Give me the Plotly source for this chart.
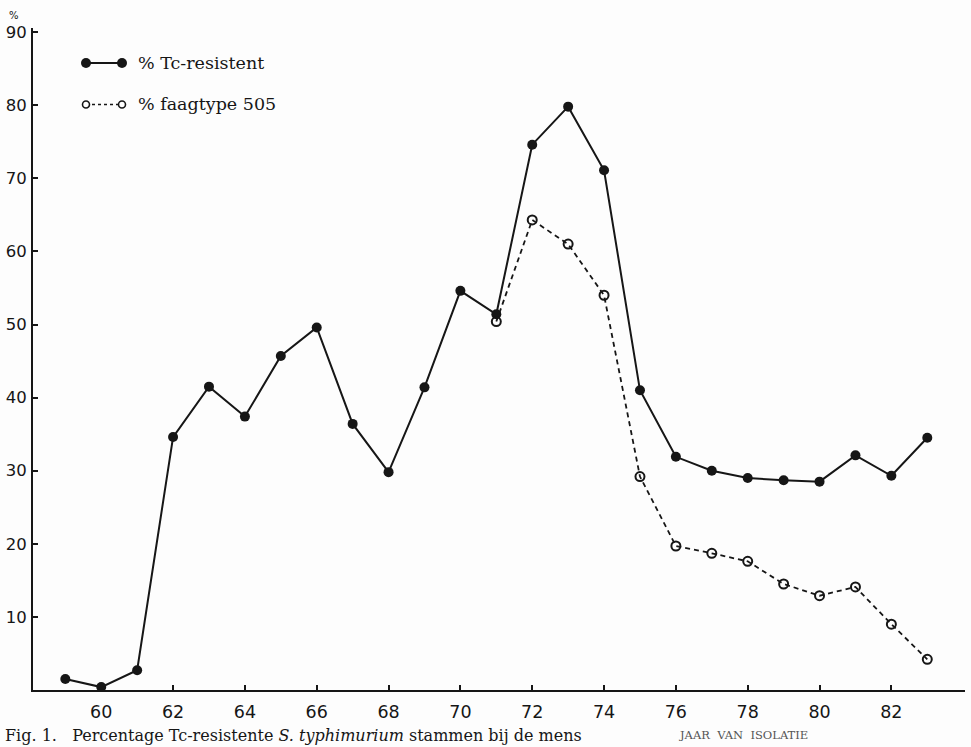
import plotly.graph_objects as go

# Years of isolation (19xx)
years_tc = [59, 60, 61, 62, 63, 64, 65, 66, 67, 68, 69, 70, 71,
            72, 73, 74, 75, 76, 77, 78, 79, 80, 81, 82, 83]
# Percentage tetracycline-resistant strains
pct_tc = [1.5, 0.4, 2.7, 34.6, 41.5, 37.4, 45.7, 49.6, 36.4, 29.8, 41.4, 54.6, 51.4,
          74.6, 79.8, 71.1, 41.0, 31.9, 30.0, 29.0, 28.7, 28.5, 32.1, 29.3, 34.5]

# Percentage phage type 505
years_505 = [71, 72, 73, 74, 75, 76, 77, 78, 79, 80, 81, 82, 83]
pct_505 = [50.4, 64.3, 61.0, 54.0, 29.2, 19.7, 18.7, 17.6, 14.5, 12.9, 14.1, 9.0, 4.2]

x_ticks = [60, 62, 64, 66, 68, 70, 72, 74, 76, 78, 80, 82]
y_ticks = [10, 20, 30, 40, 50, 60, 70, 80, 90]

legend_labels = ["% Tc-resistent", "% faagtype 505"]
x_title = "JAAR&nbsp;&nbsp;VAN&nbsp;&nbsp;ISOLATIE"
caption = ("Fig. 1.&nbsp;&nbsp;&nbsp;Percentage Tc-resistente <i>S. typhimurium</i> "
           "stammen bij de mens")

W, H = 971, 747
ML, MR, MT, MB = 33, 6, 28, 57
PW, PH = W - ML - MR, H - MT - MB
INK = "#161616"


def px(x):
    return (x - ML) / PW


def py(y):
    return (H - MB - y) / PH


fig = go.Figure()

fig.add_trace(go.Scatter(
    x=years_tc, y=pct_tc, mode="lines+markers",
    line=dict(color=INK, width=2),
    marker=dict(symbol="circle", size=10, color=INK, line=dict(width=0)),
    showlegend=False, cliponaxis=False,
))

fig.add_trace(go.Scatter(
    x=years_505, y=pct_505, mode="lines+markers",
    line=dict(color=INK, width=1.8, dash="5px,4px"),
    marker=dict(symbol="circle-open", size=9, color=INK, line=dict(width=2)),
    showlegend=False, cliponaxis=False,
))

shapes = []
annotations = []

# Hand-drawn key in the upper left
key_rows = [(63, True), (104.5, False)]
for (ky, filled), label in zip(key_rows, legend_labels):
    x_a, x_b = 86, 122
    shapes.append(dict(
        type="line", xref="paper", yref="paper",
        x0=px(x_a), x1=px(x_b), y0=py(ky), y1=py(ky),
        line=dict(color=INK, width=2 if filled else 1.6,
                  dash="solid" if filled else "3px,3px"),
    ))
    r = 5 if filled else 3.5
    for cx in (x_a, x_b):
        shapes.append(dict(
            type="circle", xref="paper", yref="paper",
            x0=px(cx - r), x1=px(cx + r), y0=py(ky + r), y1=py(ky - r),
            fillcolor=INK if filled else "white",
            line=dict(color=INK, width=0 if filled else 1.6),
        ))
    annotations.append(dict(
        xref="paper", yref="paper", x=px(136), y=py(ky),
        xanchor="left", yanchor="middle", showarrow=False,
        text=label, font=dict(family="DejaVu Serif", size=17.5, color=INK),
    ))

# Unit label above the y axis
annotations.append(dict(
    xref="paper", yref="paper", x=px(14), y=py(15),
    xanchor="center", yanchor="middle", showarrow=False,
    text="%", font=dict(family="DejaVu Sans", size=10, color=INK),
))

# Axis title
annotations.append(dict(
    xref="paper", yref="paper", x=px(743), y=py(735),
    xanchor="center", yanchor="middle", showarrow=False,
    text=x_title, font=dict(family="DejaVu Serif", size=11.5, color="#555555"),
))

# Figure caption
annotations.append(dict(
    xref="paper", yref="paper", x=px(3), y=py(747),
    xanchor="left", yanchor="bottom", showarrow=False,
    text=caption, font=dict(family="DejaVu Serif", size=16, color=INK),
))

axis_common = dict(
    showgrid=False, zeroline=False, showline=True,
    linecolor=INK, linewidth=2,
    ticks="inside", ticklen=5, tickwidth=1.5, tickcolor=INK,
)

fig.update_layout(
    width=W, height=H,
    margin=dict(l=ML, r=MR, t=MT, b=MB),
    paper_bgcolor="#fdfdfd", plot_bgcolor="#fdfdfd",
    xaxis=dict(range=[58.1, 84.05], tickvals=x_ticks,
               ticklabelstandoff=5,
               tickfont=dict(family="DejaVu Sans", size=17.5, color=INK),
               **axis_common),
    yaxis=dict(range=[0, 90.56], tickvals=y_ticks,
               ticklabelstandoff=1,
               tickfont=dict(family="DejaVu Sans", size=16.5, color=INK),
               **axis_common),
    shapes=shapes, annotations=annotations,
    showlegend=False,
)

fig.write_html("out.html")
